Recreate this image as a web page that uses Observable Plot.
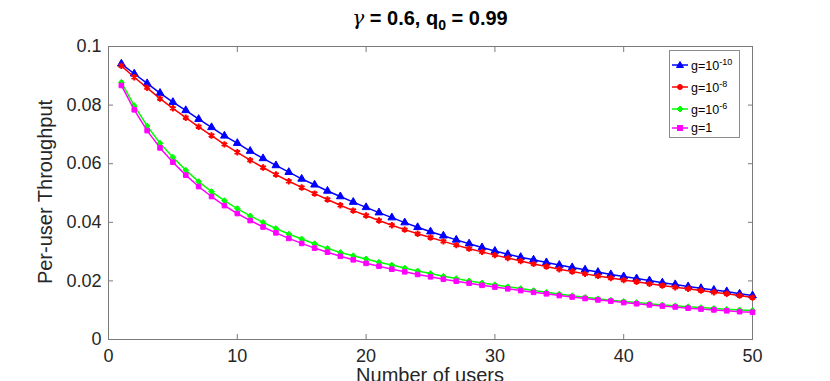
<!DOCTYPE html>
<html>
<head>
<meta charset="utf-8">
<script src="https://cdn.jsdelivr.net/npm/d3@7"></script>
<script src="https://cdn.jsdelivr.net/npm/@observablehq/plot@0.6"></script>
<style>
  body { margin: 0; background: #fff; }
  #wrap { position: relative; width: 830px; height: 381px; overflow: hidden; font-family: "Liberation Sans", Arial, sans-serif; color: #262626; }
  #title { position: absolute; left: 230px; width: 400px; top: 6px; text-align: center; font-size: 20px; font-weight: bold; color: #000; white-space: nowrap; }
  #title .g { font-family: "DejaVu Serif", serif; font-style: italic; font-weight: normal; }
  #title sub { font-size: 14px; vertical-align: -5px; }
  #ylab { position: absolute; left: 45px; top: 192px; transform: translate(-50%, -50%) rotate(-90deg); font-size: 20px; white-space: nowrap; }
  #xlab { position: absolute; left: 430px; top: 364px; transform: translateX(-50%); font-size: 20px; white-space: nowrap; }
  #legend { position: absolute; left: 669px; top: 50px; width: 71px; height: 88px; border: 1px solid #8c8c8c; background: #fff; box-sizing: border-box; }
  .row { position: absolute; left: 1px; height: 20px; display: flex; align-items: center; font-size: 12.5px; color: #000; white-space: nowrap; }
  .row svg { margin-right: 2px; }
  .row sup { font-size: 9px; vertical-align: 5px; }
</style>
</head>
<body>
<div id="wrap">
  <div id="chart"></div>
  <div id="title"><span class="g">γ</span> = 0.6, q<sub>0</sub> = 0.99</div>
  <div id="ylab">Per-user Throughput</div>
  <div id="xlab">Number of users</div>
  <div id="legend"></div>
</div>
<script>
const users = [1,2,3,4,5,6,7,8,9,10,11,12,13,14,15,16,17,18,19,20,21,22,23,24,25,26,27,28,29,30,31,32,33,34,35,36,37,38,39,40,41,42,43,44,45,46,47,48,49,50];

const g1e10 = [0.0941,0.0907,0.0874,0.0841,0.0810,0.0782,0.0752,0.0724,0.0695,0.0670,
               0.0643,0.0618,0.0594,0.0571,0.0548,0.0528,0.0507,0.0488,0.0469,0.0451,
               0.0433,0.0416,0.0399,0.0383,0.0368,0.0354,0.0340,0.0327,0.0314,0.0302,
               0.0291,0.0281,0.0272,0.0263,0.0254,0.0246,0.0238,0.0230,0.0222,0.0215,
               0.0208,0.0201,0.0194,0.0188,0.0181,0.0175,0.0169,0.0164,0.0156,0.0150];
const g1e8  = [0.0934,0.0895,0.0859,0.0822,0.0789,0.0757,0.0726,0.0696,0.0666,0.0639,
               0.0612,0.0587,0.0563,0.0540,0.0519,0.0498,0.0478,0.0458,0.0440,0.0423,
               0.0406,0.0390,0.0375,0.0361,0.0348,0.0335,0.0322,0.0310,0.0299,0.0288,
               0.0278,0.0268,0.0258,0.0249,0.0240,0.0232,0.0224,0.0217,0.0210,0.0203,
               0.0197,0.0190,0.0184,0.0178,0.0173,0.0167,0.0161,0.0156,0.0150,0.0143];
const g1e6  = [0.0878,0.0798,0.0729,0.0670,0.0622,0.0578,0.0539,0.0505,0.0474,0.0447,
               0.0422,0.0400,0.0379,0.0360,0.0343,0.0327,0.0311,0.0297,0.0286,0.0275,
               0.0264,0.0254,0.0244,0.0234,0.0225,0.0216,0.0208,0.0200,0.0193,0.0187,
               0.0180,0.0174,0.0167,0.0161,0.0155,0.0149,0.0144,0.0139,0.0134,0.0130,
               0.0126,0.0122,0.0118,0.0115,0.0112,0.0109,0.0106,0.0103,0.0101,0.0099];
const g1    = [0.0867,0.0784,0.0713,0.0654,0.0605,0.0561,0.0522,0.0488,0.0457,0.0430,
               0.0406,0.0384,0.0364,0.0345,0.0328,0.0312,0.0298,0.0284,0.0272,0.0260,
               0.0250,0.0240,0.0231,0.0222,0.0214,0.0206,0.0199,0.0192,0.0185,0.0179,
               0.0173,0.0167,0.0161,0.0156,0.0150,0.0145,0.0140,0.0135,0.0131,0.0126,
               0.0122,0.0118,0.0114,0.0111,0.0107,0.0104,0.0101,0.0098,0.0095,0.0093];

const xTicks = [0, 10, 20, 30, 40, 50];
const yTicks = [0, 0.02, 0.04, 0.06, 0.08, 0.1];
const yTickLabels = ["0", "0.02", "0.04", "0.06", "0.08", "0.1"];

const seriesNames = ["g=10^-10", "g=10^-8", "g=10^-6", "g=1"];
const seriesValues = [g1e10, g1e8, g1e6, g1];
const seriesColors = ["#0000ff", "#ff0000", "#00ff00", "#ff00ff"];
const seriesSymbols = ["triangle", "asterisk", "diamond2", "square"];

const rows = [];
seriesNames.forEach((name, i) => {
  users.forEach((u, j) => rows.push({series: name, n: u, v: seriesValues[i][j]}));
});

const marks = [];
seriesNames.forEach((name, i) => {
  const d = rows.filter(r => r.series === name);
  marks.push(Plot.line(d, {x: "n", y: "v", stroke: seriesColors[i], strokeWidth: 1.5}));
  const filled = seriesSymbols[i] !== "asterisk";
  marks.push(Plot.dot(d, {
    x: "n", y: "v", symbol: () => seriesSymbols[i],
    r: seriesSymbols[i] === "triangle" ? 2.9 : (filled ? 2.6 : 3),
    fill: filled ? seriesColors[i] : "none",
    stroke: seriesColors[i], strokeWidth: filled ? 1 : 2
  }));
});

const axisColor = "#7a7a7a";
const chart = Plot.plot({
  width: 830,
  height: 381,
  marginLeft: 108,
  marginRight: 78,
  marginTop: 46,
  marginBottom: 42,
  style: {fontFamily: "Liberation Sans, Arial, sans-serif", fontSize: "18px", color: "#262626", background: "white"},
  x: {domain: [0, 50]},
  y: {domain: [0, 0.1]},
  symbol: {type: "identity"},
  marks: [
    Plot.frame({stroke: axisColor}),
    Plot.axisX({anchor: "bottom", ticks: xTicks, tickSize: -5, tickPadding: 15, label: null, stroke: axisColor, fill: "#262626"}),
    Plot.axisX({anchor: "top", ticks: xTicks, tickSize: -5, tickFormat: () => "", label: null, stroke: axisColor}),
    Plot.axisY({anchor: "left", ticks: yTicks, tickSize: -5, tickPadding: 12, label: null,
                tickFormat: (d) => yTickLabels[yTicks.findIndex(t => Math.abs(t - d) < 1e-9)], stroke: axisColor, fill: "#262626"}),
    Plot.axisY({anchor: "right", ticks: yTicks, tickSize: -5, tickFormat: () => "", label: null, stroke: axisColor}),
    ...marks
  ]
});
document.getElementById("chart").appendChild(chart);

// legend
const legend = document.getElementById("legend");
const rowTops = [4, 26, 48, 67];
seriesNames.forEach((name, i) => {
  const row = document.createElement("div");
  row.className = "row";
  row.style.top = rowTops[i] + "px";
  const sym = seriesSymbols[i];
  let m = "";
  const c = seriesColors[i];
  if (sym === "triangle") m = `<path d="M9,6.5 L12.5,12.5 L5.5,12.5 Z" fill="${c}" stroke="${c}"/>`;
  else if (sym === "asterisk") m = `<circle cx="9" cy="10" r="2.5" fill="${c}" stroke="${c}"/>`;
  else if (sym === "diamond2") m = `<path d="M9,7 L12,10 L9,13 L6,10 Z" fill="${c}" stroke="${c}"/>`;
  else m = `<rect x="6.5" y="7.5" width="5" height="5" fill="${c}" stroke="${c}"/>`;
  const parts = name.split("^");
  const label = parts.length > 1 ? `${parts[0]}<sup>${parts[1]}</sup>` : parts[0];
  row.innerHTML = `<svg width="18" height="20"><line x1="1" y1="10" x2="17" y2="10" stroke="${c}" stroke-width="1.5"/>${m}</svg><span>${label}</span>`;
  legend.appendChild(row);
});
</script>
</body>
</html>
